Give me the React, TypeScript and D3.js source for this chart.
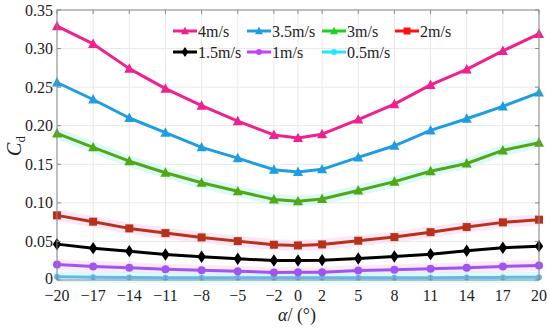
import React, { useEffect, useRef } from 'react';
import * as d3 from 'd3';

const angles = [-20, -17, -14, -11, -8, -5, -2, 0, 2, 5, 8, 11, 14, 17, 20];
const yTicks = [0, 0.05, 0.1, 0.15, 0.2, 0.25, 0.3, 0.35];
const yTickLabels = ['0', '0.05', '0.10', '0.15', '0.20', '0.25', '0.30', '0.35'];

const cd4 = [0.329, 0.306, 0.274, 0.248, 0.226, 0.206, 0.188, 0.184, 0.189, 0.208, 0.228, 0.253, 0.273, 0.297, 0.319];
const cd35 = [0.256, 0.234, 0.21, 0.191, 0.172, 0.158, 0.143, 0.14, 0.1435, 0.159, 0.174, 0.194, 0.209, 0.225, 0.243];
const cd3 = [0.19, 0.172, 0.154, 0.139, 0.126, 0.115, 0.1045, 0.102, 0.105, 0.116, 0.1275, 0.141, 0.151, 0.168, 0.178];
const cd2 = [0.0838, 0.0756, 0.0669, 0.0608, 0.0552, 0.0504, 0.0457, 0.0448, 0.0461, 0.0509, 0.0556, 0.062, 0.0686, 0.0747, 0.0782];
const cd15 = [0.0465, 0.0413, 0.0374, 0.0331, 0.0301, 0.0275, 0.0253, 0.0253, 0.0257, 0.0279, 0.0305, 0.0335, 0.0379, 0.0418, 0.0439];
const cd1 = [0.0201, 0.0175, 0.0158, 0.014, 0.0127, 0.0114, 0.0097, 0.0101, 0.0101, 0.0123, 0.0132, 0.0145, 0.0158, 0.0175, 0.0188];
const cd05 = [0.0042, 0.0035, 0.0032, 0.003, 0.003, 0.003, 0.003, 0.003, 0.003, 0.003, 0.003, 0.003, 0.0032, 0.0034, 0.0036];

const series = [
  { name: '4m/s', values: cd4, color: '#f0218f', marker: 'tri', legend: '#f0218f', halo: null },
  { name: '3.5m/s', values: cd35, color: '#1e9ee0', marker: 'tri', legend: '#1e9ee0', halo: null },
  { name: '3m/s', values: cd3, color: '#52a814', marker: 'tri', legend: '#1fd11f', halo: '#c4f7f2' },
  { name: '2m/s', values: cd2, color: '#b8321a', marker: 'sq', legend: '#ff1010', halo: '#fcd6f2' },
  { name: '1.5m/s', values: cd15, color: '#000000', marker: 'dia', legend: '#000000', halo: null },
  { name: '1m/s', values: cd1, color: '#a155f0', marker: 'circ', legend: '#c040ff', halo: '#fcdcf4' },
  { name: '0.5m/s', values: cd05, color: '#62b8ea', marker: 'circ', legend: '#22e5ff', halo: '#c8f8f8' },
];

const legendX = [173, 247, 322, 395];
const legendY = [31, 52];

const App = () => {
  const svgRef = useRef<SVGSVGElement>(null);

  useEffect(() => {
    const svg = d3.select(svgRef.current);
    svg.selectAll('*').remove();

    const left = 57, right = 539, top = 10, bottom = 280;
    const x = d3.scaleLinear().domain([-20, 20]).range([left, right]);
    const y = d3.scaleLinear().domain([0, 0.35]).range([bottom, top]);
    const font = 'Liberation Serif, DejaVu Serif, serif';

    // grid
    const grid = svg.append('g');
    angles.forEach(a => {
      grid.append('line').attr('x1', x(a)).attr('x2', x(a)).attr('y1', top).attr('y2', bottom)
        .attr('stroke', '#e8e8e8').attr('stroke-width', 1);
    });
    yTicks.forEach(t => {
      grid.append('line').attr('x1', left).attr('x2', right).attr('y1', y(t)).attr('y2', y(t))
        .attr('stroke', '#e8e8e8').attr('stroke-width', 1);
    });

    const line = d3.line<number>().x((d, i) => x(angles[i])).y(d => y(d));

    const drawMarker = (g: any, type: string, cx: number, cy: number, color: string, s: number) => {
      if (type === 'tri') {
        const h = s * 0.9;
        g.append('path').attr('d', `M${cx},${cy - h * 0.6}L${cx + s / 2},${cy + h * 0.45}L${cx - s / 2},${cy + h * 0.45}Z`)
          .attr('fill', color);
      } else if (type === 'sq') {
        g.append('rect').attr('x', cx - s / 2).attr('y', cy - s / 2).attr('width', s).attr('height', s).attr('fill', color);
      } else if (type === 'dia') {
        g.append('path').attr('d', `M${cx},${cy - s * 0.62}L${cx + s * 0.42},${cy}L${cx},${cy + s * 0.62}L${cx - s * 0.42},${cy}Z`)
          .attr('fill', color);
      } else {
        g.append('circle').attr('cx', cx).attr('cy', cy).attr('r', s / 2).attr('fill', color);
      }
    };

    const plot = svg.append('g');
    // halos
    series.forEach(s => {
      if (!s.halo) return;
      plot.append('path').attr('d', line(s.values)).attr('fill', 'none')
        .attr('stroke', s.halo).attr('stroke-width', 11).attr('opacity', 0.6);
    });
    series.slice().reverse().forEach(s => {
      plot.append('path').attr('d', line(s.values)).attr('fill', 'none')
        .attr('stroke', s.color).attr('stroke-width', 3).attr('stroke-linejoin', 'round');
      const size = s.marker === 'circ' ? (s.name === '0.5m/s' ? 6 : 8) : s.marker === 'sq' ? 8 : 10;
      s.values.forEach((v, i) => drawMarker(plot, s.marker, x(angles[i]), y(v), s.color, size));
    });

    // axes box
    const ax = svg.append('g');
    ax.append('rect').attr('x', left).attr('y', top).attr('width', right - left).attr('height', bottom - top)
      .attr('fill', 'none').attr('stroke', '#8a8a8a').attr('stroke-width', 1);
    angles.forEach(a => {
      ax.append('line').attr('x1', x(a)).attr('x2', x(a)).attr('y1', bottom).attr('y2', bottom - 4).attr('stroke', '#8a8a8a');
      ax.append('line').attr('x1', x(a)).attr('x2', x(a)).attr('y1', top).attr('y2', top + 4).attr('stroke', '#8a8a8a');
      ax.append('text').attr('x', x(a)).attr('y', bottom + 21).attr('text-anchor', 'middle')
        .attr('font-family', font).attr('font-size', 16).attr('fill', '#222')
        .text(a < 0 ? `\u2212${-a}` : `${a}`);
    });
    yTicks.forEach((t, i) => {
      ax.append('line').attr('x1', left).attr('x2', left + 4).attr('y1', y(t)).attr('y2', y(t)).attr('stroke', '#8a8a8a');
      ax.append('line').attr('x1', right).attr('x2', right - 4).attr('y1', y(t)).attr('y2', y(t)).attr('stroke', '#8a8a8a');
      ax.append('text').attr('x', left - 4).attr('y', y(t) - (t === 0 ? 2 : 0)).attr('dy', '0.35em').attr('text-anchor', 'end')
        .attr('font-family', font).attr('font-size', 16).attr('fill', '#222')
        .text(yTickLabels[i]);
    });

    // axis labels
    const xl = ax.append('text').attr('x', 297).attr('y', 321).attr('text-anchor', 'middle')
      .attr('font-family', font).attr('font-size', 18).attr('fill', '#222');
    xl.append('tspan').attr('font-style', 'italic').text('\u03b1');
    xl.append('tspan').text('/ (\u00b0)');

    const yl = ax.append('text').attr('transform', 'translate(21,146) rotate(-90)').attr('text-anchor', 'middle')
      .attr('font-family', font).attr('font-size', 20).attr('fill', '#222');
    yl.append('tspan').attr('font-style', 'italic').text('C');
    yl.append('tspan').attr('dy', 4).attr('font-size', 13).text('d');

    // legend
    const lg = svg.append('g');
    series.forEach((s, i) => {
      const lx = legendX[i % 4];
      const ly = legendY[Math.floor(i / 4)];
      lg.append('line').attr('x1', lx).attr('x2', lx + 24).attr('y1', ly).attr('y2', ly)
        .attr('stroke', s.legend).attr('stroke-width', 3);
      const size = s.marker === 'circ' ? 6 : s.marker === 'sq' ? 7 : 8;
      drawMarker(lg, s.marker, lx + 12, ly, s.legend, size);
      lg.append('text').attr('x', lx + 25).attr('y', ly).attr('dy', '0.35em')
        .attr('font-family', font).attr('font-size', 16).attr('fill', '#222').text(s.name);
    });
  }, []);

  return <svg ref={svgRef} width={550} height={330} style={{ position: 'absolute', left: 0, top: 0, background: '#fff' }}></svg>;
};

export default App;
